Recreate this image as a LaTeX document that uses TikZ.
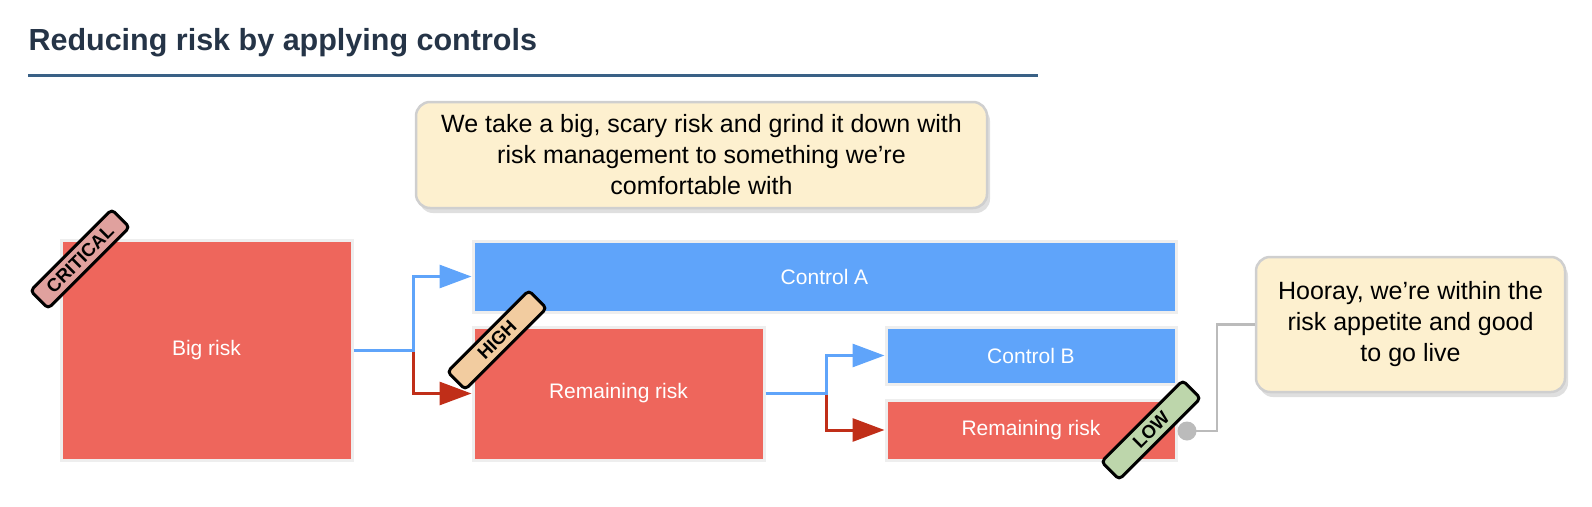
\documentclass[tikz,border=0pt]{standalone}
\usepackage{fontspec}
\setmainfont{Liberation Sans}
\usepackage{tikz}
\usepackage{xcolor}
\usetikzlibrary{arrows.meta,calc,positioning,shadows}
\definecolor{RiskRed}{HTML}{EE665C}
\definecolor{CtrlBlue}{HTML}{5FA4FA}
\definecolor{ArrowRed}{HTML}{C02E18}
\definecolor{CritFill}{HTML}{E0A19E}
\definecolor{HighFill}{HTML}{F2CCA0}
\definecolor{LowFill}{HTML}{BDD6AB}
\definecolor{NoteFill}{HTML}{FDF0CF}
\definecolor{NoteEdge}{HTML}{CFCFCF}
\definecolor{TitleInk}{HTML}{253447}
\definecolor{RuleBlue}{HTML}{3A6186}
\definecolor{LinkGrey}{HTML}{BBBBBB}
\definecolor{BoxEdge}{HTML}{EEEEEE}

\begin{document}
\begin{tikzpicture}[x=1pt, y=-1pt, >={Triangle[length=32pt,width=23pt]},
    riskbox/.style={draw=BoxEdge, line width=3pt, fill=RiskRed, text=white,
        font=\fontsize{21}{25}\selectfont, inner sep=0pt},
    ctrlbox/.style={riskbox, fill=CtrlBlue},
    risklevel/.style={draw=black, line width=3pt, rounded corners=4pt, rotate=45,
        minimum width=115pt, minimum height=25pt, inner sep=0pt,
        font=\fontsize{18.5}{20}\selectfont\bfseries},
    notebox/.style={draw=NoteEdge, line width=2.5pt, fill=NoteFill, rounded corners=14pt,
        align=center, inner sep=0pt, font=\fontsize{25}{31}\selectfont,
        drop shadow={shadow xshift=3pt, shadow yshift=-5pt, opacity=0.25}},
    flowblue/.style={->, line width=3pt, CtrlBlue},
    flowred/.style={->, line width=3pt, ArrowRed}]
    \useasboundingbox (0,0) rectangle (1592,506);

    % Title
    \node[anchor=west, TitleInk, font=\fontsize{30.5}{35}\selectfont\bfseries] (title) at (25,43) {Reducing risk by applying controls};
    \draw[line width=3pt, RuleBlue] (28,75) -- (1038,75);

    % Notes
    \node[notebox, minimum width=571pt, minimum height=106pt] (note) at (701.5,155)
        {We take a big, scary risk and grind it down with\\risk management to something we’re\\comfortable with};
    \node[notebox, minimum width=309pt, minimum height=135pt] (hooray) at (1410.5,324.5)
        {Hooray, we’re within the\\risk appetite and good\\to go live};

    % Risks and controls
    \node[riskbox, minimum width=291pt, minimum height=220pt] (bigrisk) at (206.5,350) {Big risk};
    \node[ctrlbox, minimum width=703pt, minimum height=71pt] (ctrla) at (824.5,276.5) {Control A};
    \node[riskbox, minimum width=291pt, minimum height=133pt] (remrisk) at (618.5,393.5) {Remaining risk};
    \node[ctrlbox, minimum width=290pt, minimum height=57pt] (ctrlb) at (1031,355.5) {Control B};
    \node[riskbox, minimum width=290pt, minimum height=60pt] (remriskb) at (1031,430) {Remaining risk};

    % Flows
    \draw[flowred] ($(bigrisk.east)+(60,0)$) |- (remrisk.west);
    \draw[flowblue] (bigrisk.east) -- ++(60,0) |- (ctrla.west);
    \draw[flowred] ($(remrisk.east)+(61,0)$) |- (remriskb.west);
    \draw[flowblue] (remrisk.east) -- ++(61,0) |- (ctrlb.west);

    % Link to the note
    \node[circle, fill=LinkGrey, minimum size=19pt, inner sep=0pt] (lowdot) at (1187,431) {};
    \draw[LinkGrey, line width=2.5pt] (lowdot.center) -- ++(30,0) |- (hooray.west);

    % Risk levels
    \node[risklevel, fill=CritFill] (crit) at (80,259) {CRITICAL};
    \node[risklevel, fill=HighFill] (high) at (497,340) {HIGH};
    \node[risklevel, fill=LowFill] (low) at (1151,430) {LOW};

\end{tikzpicture}
\end{document}
